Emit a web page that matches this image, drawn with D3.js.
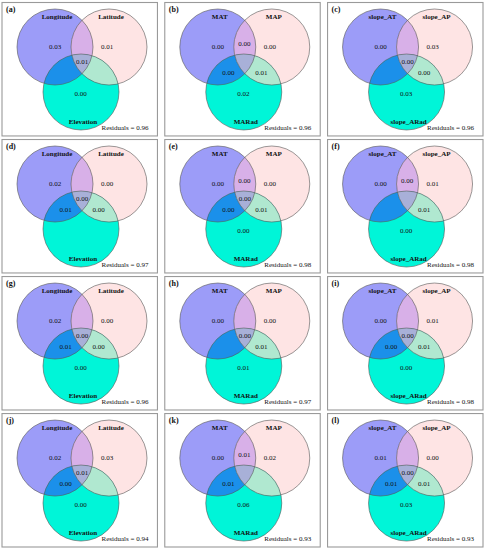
<!DOCTYPE html>
<html lang="en">
  <head>
    <meta charset="UTF-8" />
    <title>Venn panels</title>
    <script src="https://d3js.org/d3.v7.min.js"></script>
    <style>
      body { margin: 0; background: #fff; }
      svg { display: block; }
      text { font-family: 'Liberation Serif', 'Times New Roman', serif; fill: #111; }
      .set-label { font-weight: bold; font-size: 7px; }
      .val { font-size: 7px; }
      .resid { font-size: 7px; }
      .tag { font-weight: bold; font-size: 8px; }
    </style>
  </head>
  <body>
    <div id="chart"></div>
    <script>
      // data
      const panelTags = ['(a)', '(b)', '(c)', '(d)', '(e)', '(f)', '(g)', '(h)', '(i)', '(j)', '(k)', '(l)'];
      const setNames = [
        ['Longitude', 'Latitude', 'Elevation'],
        ['MAT', 'MAP', 'MARad'],
        ['slope_AT', 'slope_AP', 'slope_ARad']
      ];
      // region order: A, B, C, AB, AC, BC, ABC (null = not labelled)
      const regionKeys = ['A', 'B', 'C', 'AB', 'AC', 'BC', 'ABC'];
      const regionValues = [
        ['0.03', '0.01', '0.00', null, null, null, '0.01'],
        ['0.00', '0.00', '0.02', '0.00', '0.00', '0.01', null],
        ['0.00', '0.03', '0.03', null, null, '0.00', '0.00'],
        ['0.02', '0.00', null, null, '0.01', '0.00', '0.00'],
        ['0.00', '0.00', '0.00', '0.00', '0.00', '0.01', '0.00'],
        ['0.00', '0.01', '0.00', '0.00', null, '0.01', null],
        ['0.02', '0.00', '0.00', null, '0.01', '0.00', '0.00'],
        ['0.00', '0.00', '0.01', null, null, '0.01', '0.00'],
        ['0.00', '0.01', '0.00', null, '0.00', '0.01', '0.00'],
        ['0.02', '0.03', '0.00', null, '0.00', null, '0.01'],
        ['0.00', '0.02', '0.06', '0.01', '0.01', null, null],
        ['0.01', '0.00', '0.03', null, '0.01', '0.01', '0.00']
      ];
      const residuals = [0.96, 0.96, 0.96, 0.97, 0.98, 0.98, 0.96, 0.97, 0.98, 0.94, 0.93, 0.93];

      const W = 485, H = 550;
      const svg = d3.select('#chart').append('svg').attr('width', W).attr('height', H);

      const col = d3.scaleBand().domain([0, 1, 2]).range([2, 483]).paddingInner(0.045);
      const row = d3.scaleBand().domain([0, 1, 2, 3]).range([2.5, 547]).paddingInner(0.026);

      // circle geometry inside a panel
      const R = 38;
      const circles = {
        A: { x: 53, y: 44.5 },
        B: { x: 107, y: 44.5 },
        C: { x: 79, y: 89.5 }
      };
      const fills = {
        A: '#9c9cf8', B: '#fee4e4', C: '#00f5d8',
        AB: '#d8b0e8', AC: '#1b90ea', BC: '#b0e8d0', ABC: '#a8b0d8'
      };
      const labelPos = {
        A: [53, 44], B: [105, 44.5], C: [78.5, 91.5],
        AB: [79.5, 41], AC: [63.5, 70], BC: [96.5, 70], ABC: [80, 59.5]
      };

      const defs = svg.append('defs');
      ['A', 'B'].forEach((k) => {
        defs.append('clipPath').attr('id', 'clip' + k)
          .append('circle').attr('cx', circles[k].x).attr('cy', circles[k].y).attr('r', R);
      });

      const circ = (sel, k, fill) =>
        sel.append('circle').attr('cx', circles[k].x).attr('cy', circles[k].y).attr('r', R).attr('fill', fill);

      panelTags.forEach((tag, i) => {
        const c = i % 3, r = Math.floor(i / 3);
        const pw = col.bandwidth(), ph = row.bandwidth();
        const g = svg.append('g').attr('transform', `translate(${col(c)},${row(r)})`);

        g.append('rect').attr('width', pw).attr('height', ph)
          .attr('fill', '#fff').attr('stroke', '#9a9a9a').attr('stroke-width', 1.1);

        circ(g, 'A', fills.A);
        circ(g, 'B', fills.B);
        circ(g, 'C', fills.C);
        circ(g.append('g').attr('clip-path', 'url(#clipA)'), 'B', fills.AB);
        circ(g.append('g').attr('clip-path', 'url(#clipA)'), 'C', fills.AC);
        circ(g.append('g').attr('clip-path', 'url(#clipB)'), 'C', fills.BC);
        circ(g.append('g').attr('clip-path', 'url(#clipA)').append('g').attr('clip-path', 'url(#clipB)'), 'C', fills.ABC);
        ['A', 'B', 'C'].forEach((k) => {
          g.append('circle').attr('cx', circles[k].x).attr('cy', circles[k].y).attr('r', R)
            .attr('fill', 'none').attr('stroke', '#555').attr('stroke-width', 0.6);
        });

        const names = setNames[c];
        g.append('text').attr('class', 'set-label').attr('text-anchor', 'middle')
          .attr('x', circles.A.x + 2).attr('y', circles.A.y - R + 10).text(names[0]);
        g.append('text').attr('class', 'set-label').attr('text-anchor', 'middle')
          .attr('x', circles.B.x + 2).attr('y', circles.B.y - R + 10).text(names[1]);
        g.append('text').attr('class', 'set-label').attr('text-anchor', 'middle')
          .attr('x', circles.C.x + 2).attr('y', circles.C.y + R - 6).text(names[2]);

        regionValues[i].forEach((v, j) => {
          if (v === null) return;
          const p = labelPos[regionKeys[j]];
          g.append('text').attr('class', 'val').attr('text-anchor', 'middle')
            .attr('x', p[0]).attr('y', p[1]).attr('dy', '0.35em').text(v);
        });

        g.append('text').attr('class', 'tag').attr('x', 4).attr('y', 9).text(tag);
        g.append('text').attr('class', 'resid').attr('text-anchor', 'middle')
          .attr('x', 123).attr('y', ph - 6).text('Residuals = ' + residuals[i].toFixed(2));
      });
    </script>
  </body>
</html>
